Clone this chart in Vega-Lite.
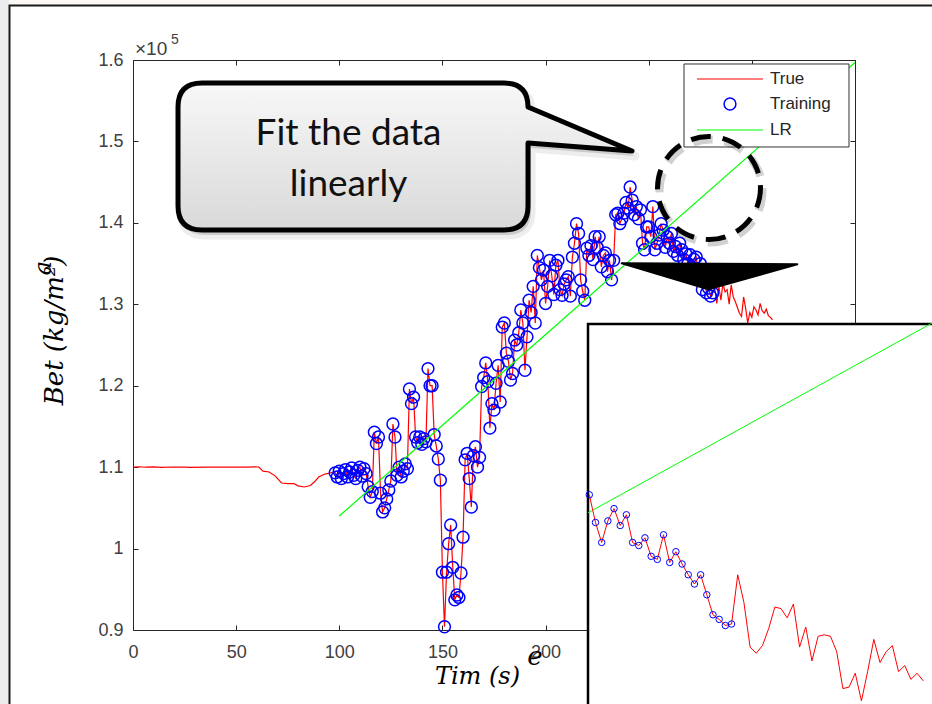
{
 "$schema": "https://vega.github.io/schema/vega-lite/v6.json",
 "width": 722,
 "height": 570,
 "autosize": {"type": "none"},
 "padding": {"left": 133, "top": 60, "right": 77, "bottom": 74},
 "background": "#ffffff",
 "config": {"view": {"stroke": null}, "axis": {"grid": false}},
 "datasets": {
  "main": [
   {"t":0,"beta":1.1,"train":false},{"t":3,"beta":1.1005,"train":false},{"t":6,"beta":1.0999,"train":false},{"t":10,"beta":1.1003,"train":false},{"t":14,"beta":1.0998,"train":false},{"t":19,"beta":1.1002,"train":false},{"t":25,"beta":1.1,"train":false},{"t":28,"beta":1.0996,"train":false},{"t":35,"beta":1.0999,"train":false},{"t":45,"beta":1.1,"train":false},{"t":55,"beta":1.1,"train":false},{"t":59,"beta":1.1004,"train":false},{"t":61,"beta":1.1002,"train":false},{"t":63,"beta":1.095,"train":false},{"t":66,"beta":1.094,"train":false},{"t":69,"beta":1.089,"train":false},{"t":72,"beta":1.0805,"train":false},{"t":75,"beta":1.0797,"train":false},{"t":78,"beta":1.0798,"train":false},{"t":80,"beta":1.077,"train":false},{"t":83,"beta":1.0756,"train":false},{"t":86,"beta":1.0775,"train":false},{"t":88,"beta":1.082,"train":false},{"t":90,"beta":1.0879,"train":false},{"t":93,"beta":1.0915,"train":false},{"t":95,"beta":1.0925,"train":false},{"t":97,"beta":1.094,"train":false},
   {"t":98,"beta":1.093,"train":true},{"t":99,"beta":1.088,"train":true},{"t":100,"beta":1.095,"train":true},{"t":101,"beta":1.086,"train":true},{"t":102,"beta":1.092,"train":true},{"t":103,"beta":1.097,"train":true},{"t":104,"beta":1.088,"train":true},{"t":105,"beta":1.094,"train":true},{"t":106,"beta":1.099,"train":true},{"t":107,"beta":1.09,"train":true},{"t":108,"beta":1.086,"train":true},{"t":109,"beta":1.096,"train":true},{"t":110,"beta":1.1,"train":true},{"t":111,"beta":1.089,"train":true},{"t":112,"beta":1.098,"train":true},{"t":113,"beta":1.092,"train":true},{"t":114,"beta":1.076,"train":true},{"t":115,"beta":1.063,"train":true},{"t":116,"beta":1.07,"train":true},{"t":117,"beta":1.143,"train":true},{"t":118,"beta":1.129,"train":true},{"t":119,"beta":1.137,"train":true},{"t":120,"beta":1.068,"train":true},{"t":121,"beta":1.045,"train":true},{"t":122,"beta":1.05,"train":true},{"t":123,"beta":1.061,"train":true},{"t":124,"beta":1.072,"train":true},{"t":125,"beta":1.083,"train":true},{"t":126,"beta":1.153,"train":true},{"t":127,"beta":1.137,"train":true},{"t":128,"beta":1.09,"train":true},{"t":129,"beta":1.1,"train":true},{"t":130,"beta":1.088,"train":true},{"t":131,"beta":1.095,"train":true},{"t":132,"beta":1.104,"train":true},{"t":133,"beta":1.098,"train":true},{"t":134,"beta":1.196,"train":true},{"t":135,"beta":1.178,"train":true},{"t":136,"beta":1.186,"train":true},{"t":137,"beta":1.137,"train":true},{"t":138,"beta":1.13,"train":true},{"t":139,"beta":1.137,"train":true},{"t":140,"beta":1.128,"train":true},{"t":141,"beta":1.135,"train":true},{"t":142,"beta":1.131,"train":true},{"t":143,"beta":1.221,"train":true},{"t":144,"beta":1.2,"train":true},{"t":145,"beta":1.2,"train":true},{"t":146,"beta":1.14,"train":true},{"t":147,"beta":1.126,"train":true},{"t":148,"beta":1.11,"train":true},{"t":149,"beta":1.084,"train":true},{"t":150,"beta":0.971,"train":true},{"t":151,"beta":0.904,"train":true},{"t":152,"beta":0.971,"train":true},{"t":153,"beta":1.006,"train":true},{"t":154,"beta":1.029,"train":true},{"t":155,"beta":0.977,"train":true},{"t":156,"beta":0.937,"train":true},{"t":157,"beta":0.943,"train":true},{"t":158,"beta":0.94,"train":true},{"t":159,"beta":0.97,"train":true},{"t":160,"beta":1.014,"train":true},{"t":161,"beta":1.109,"train":true},{"t":162,"beta":1.117,"train":true},{"t":163,"beta":1.086,"train":true},{"t":164,"beta":1.051,"train":true},{"t":165,"beta":1.114,"train":true},{"t":166,"beta":1.125,"train":true},{"t":167,"beta":1.1,"train":true},{"t":168,"beta":1.112,"train":true},{"t":169,"beta":1.199,"train":true},{"t":170,"beta":1.21,"train":true},{"t":171,"beta":1.228,"train":true},{"t":172,"beta":1.205,"train":true},{"t":173,"beta":1.148,"train":true},{"t":174,"beta":1.178,"train":true},{"t":175,"beta":1.17,"train":true},{"t":176,"beta":1.203,"train":true},{"t":177,"beta":1.225,"train":true},{"t":178,"beta":1.18,"train":true},{"t":179,"beta":1.272,"train":true},{"t":180,"beta":1.277,"train":true},{"t":181,"beta":1.24,"train":true},{"t":182,"beta":1.23,"train":true},{"t":183,"beta":1.207,"train":true},{"t":184,"beta":1.215,"train":true},{"t":185,"beta":1.256,"train":true},{"t":186,"beta":1.25,"train":true},{"t":187,"beta":1.265,"train":true},{"t":188,"beta":1.293,"train":true},{"t":189,"beta":1.277,"train":true},{"t":190,"beta":1.219,"train":true},{"t":191,"beta":1.26,"train":true},{"t":192,"beta":1.305,"train":true},{"t":193,"beta":1.29,"train":true},{"t":194,"beta":1.322,"train":true},{"t":195,"beta":1.277,"train":true},{"t":196,"beta":1.36,"train":true},{"t":197,"beta":1.345,"train":true},{"t":198,"beta":1.33,"train":true},{"t":199,"beta":1.342,"train":true},{"t":200,"beta":1.301,"train":true},{"t":201,"beta":1.322,"train":true},{"t":202,"beta":1.354,"train":true},{"t":203,"beta":1.335,"train":true},{"t":204,"beta":1.312,"train":true},{"t":205,"beta":1.348,"train":true},{"t":206,"beta":1.354,"train":true},{"t":207,"beta":1.318,"train":true},{"t":208,"beta":1.311,"train":true},{"t":209,"beta":1.325,"train":true},{"t":210,"beta":1.33,"train":true},{"t":211,"beta":1.334,"train":true},{"t":212,"beta":1.31,"train":true},{"t":213,"beta":1.358,"train":true},{"t":214,"beta":1.375,"train":true},{"t":215,"beta":1.399,"train":true},{"t":216,"beta":1.387,"train":true},{"t":217,"beta":1.33,"train":true},{"t":218,"beta":1.316,"train":true},{"t":219,"beta":1.305,"train":true},{"t":220,"beta":1.369,"train":true},{"t":221,"beta":1.36,"train":true},{"t":222,"beta":1.372,"train":true},{"t":223,"beta":1.355,"train":true},{"t":224,"beta":1.383,"train":true},{"t":225,"beta":1.37,"train":true},{"t":226,"beta":1.383,"train":true},{"t":227,"beta":1.346,"train":true},{"t":228,"beta":1.36,"train":true},{"t":229,"beta":1.363,"train":true},{"t":230,"beta":1.34,"train":true},{"t":231,"beta":1.354,"train":true},{"t":232,"beta":1.33,"train":true},{"t":233,"beta":1.354,"train":true},{"t":234,"beta":1.41,"train":true},{"t":235,"beta":1.412,"train":true},{"t":236,"beta":1.399,"train":true},{"t":237,"beta":1.405,"train":true},{"t":238,"beta":1.412,"train":true},{"t":239,"beta":1.425,"train":true},{"t":240,"beta":1.418,"train":true},{"t":241,"beta":1.444,"train":true},{"t":242,"beta":1.428,"train":true},{"t":243,"beta":1.41,"train":true},{"t":244,"beta":1.42,"train":true},{"t":245,"beta":1.405,"train":true},{"t":246,"beta":1.416,"train":true},{"t":247,"beta":1.375,"train":true},{"t":248,"beta":1.367,"train":true},{"t":249,"beta":1.395,"train":true},{"t":250,"beta":1.395,"train":true},{"t":251,"beta":1.383,"train":true},{"t":252,"beta":1.42,"train":true},{"t":253,"beta":1.367,"train":true},{"t":254,"beta":1.375,"train":true},{"t":255,"beta":1.385,"train":true},{"t":256,"beta":1.399,"train":true},{"t":257,"beta":1.391,"train":true},{"t":258,"beta":1.37,"train":true},{"t":259,"beta":1.383,"train":true},{"t":260,"beta":1.375,"train":true},{"t":261,"beta":1.387,"train":true},{"t":262,"beta":1.365,"train":true},{"t":263,"beta":1.371,"train":true},{"t":264,"beta":1.36,"train":true},{"t":265,"beta":1.375,"train":true},{"t":266,"beta":1.367,"train":true},{"t":267,"beta":1.355,"train":true},{"t":268,"beta":1.362,"train":true},{"t":269,"beta":1.35,"train":true},{"t":270,"beta":1.361,"train":true},{"t":271,"beta":1.345,"train":true},{"t":272,"beta":1.355,"train":true},{"t":273,"beta":1.358,"train":true},{"t":274,"beta":1.34,"train":true},{"t":275,"beta":1.35,"train":true},{"t":276,"beta":1.318,"train":true},{"t":277,"beta":1.33,"train":true},{"t":278,"beta":1.314,"train":true},{"t":279,"beta":1.32,"train":true},{"t":280,"beta":1.31,"train":true},{"t":281,"beta":1.314,"train":true},
   {"t":282,"beta":1.32,"train":false},{"t":283,"beta":1.301,"train":false},{"t":284,"beta":1.322,"train":false},{"t":285,"beta":1.305,"train":false},{"t":286,"beta":1.326,"train":false},{"t":287,"beta":1.315,"train":false},{"t":288,"beta":1.318,"train":false},{"t":289,"beta":1.3,"train":false},{"t":290,"beta":1.324,"train":false},{"t":291,"beta":1.309,"train":false},{"t":292,"beta":1.303,"train":false},{"t":293,"beta":1.296,"train":false},{"t":294,"beta":1.289,"train":false},{"t":295,"beta":1.285,"train":false},{"t":296,"beta":1.309,"train":false},{"t":297,"beta":1.295,"train":false},{"t":298,"beta":1.277,"train":false},{"t":299,"beta":1.29,"train":false},{"t":300,"beta":1.284,"train":false},{"t":301,"beta":1.297,"train":false},{"t":302,"beta":1.293,"train":false},{"t":303,"beta":1.287,"train":false},{"t":304,"beta":1.301,"train":false},{"t":305,"beta":1.292,"train":false},{"t":306,"beta":1.289,"train":false},{"t":307,"beta":1.294,"train":false},{"t":308,"beta":1.286,"train":false},{"t":309,"beta":1.284,"train":false},{"t":310,"beta":1.281,"train":false}
  ],
  "lr": [{"t":100,"beta":1.04},{"t":350,"beta":1.597}],
  "inset": [
   {"t":256,"beta":1.399,"train":true},{"t":257,"beta":1.381,"train":true},{"t":258,"beta":1.368,"train":true},{"t":259,"beta":1.382,"train":true},{"t":260,"beta":1.39,"train":true},{"t":261,"beta":1.379,"train":true},{"t":262,"beta":1.386,"train":true},{"t":263,"beta":1.368,"train":true},{"t":264,"beta":1.366,"train":true},{"t":265,"beta":1.371,"train":true},{"t":266,"beta":1.359,"train":true},{"t":267,"beta":1.357,"train":true},{"t":268,"beta":1.373,"train":true},{"t":269,"beta":1.355,"train":true},{"t":270,"beta":1.362,"train":true},{"t":271,"beta":1.354,"train":true},{"t":272,"beta":1.347,"train":true},{"t":273,"beta":1.341,"train":true},{"t":274,"beta":1.347,"train":true},{"t":275,"beta":1.334,"train":true},{"t":276,"beta":1.321,"train":true},{"t":277,"beta":1.318,"train":true},{"t":278,"beta":1.314,"train":true},{"t":279,"beta":1.315,"train":true},
   {"t":280,"beta":1.347,"train":false},{"t":281,"beta":1.329,"train":false},{"t":282,"beta":1.3,"train":false},{"t":283,"beta":1.296,"train":false},{"t":284,"beta":1.301,"train":false},{"t":285,"beta":1.312,"train":false},{"t":286,"beta":1.326,"train":false},{"t":287,"beta":1.325,"train":false},{"t":288,"beta":1.319,"train":false},{"t":289,"beta":1.328,"train":false},{"t":290,"beta":1.3,"train":false},{"t":291,"beta":1.313,"train":false},{"t":292,"beta":1.291,"train":false},{"t":293,"beta":1.307,"train":false},{"t":294,"beta":1.308,"train":false},{"t":295,"beta":1.307,"train":false},{"t":296,"beta":1.297,"train":false},{"t":297,"beta":1.273,"train":false},{"t":298,"beta":1.274,"train":false},{"t":299,"beta":1.283,"train":false},{"t":300,"beta":1.265,"train":false},{"t":301,"beta":1.284,"train":false},{"t":302,"beta":1.305,"train":false},{"t":303,"beta":1.29,"train":false},{"t":304,"beta":1.297,"train":false},{"t":305,"beta":1.301,"train":false},{"t":306,"beta":1.284,"train":false},{"t":307,"beta":1.288,"train":false},{"t":308,"beta":1.279,"train":false},{"t":309,"beta":1.283,"train":false},{"t":310,"beta":1.278,"train":false}
  ],
  "insetLR": [{"t":255.79,"beta":1.3873},{"t":311.41,"beta":1.5106}],
  "one": [{}]
 },
 "layer": [
  {
   "layer": [
    {"data":{"name":"one"},"mark":{"type":"rect","fill":"#ececec"},
     "encoding":{"x":{"datum":-70,"type":"quantitative","scale":{"domain":[0,350],"nice":false,"zero":false},"axis":null},"x2":{"datum":-59.87},
      "y":{"datum":1.7,"type":"quantitative","scale":{"domain":[0.9,1.6],"nice":false,"zero":false},"axis":null},"y2":{"datum":0.8}}},
    {"data":{"name":"one"},"mark":{"type":"rect","fill":"#fcf8f4"},
     "encoding":{"x":{"datum":-59.87,"type":"quantitative","scale":{"domain":[0,350],"nice":false,"zero":false},"axis":null},"x2":{"datum":400},
      "y":{"datum":1.7,"type":"quantitative","scale":{"domain":[0.9,1.6],"nice":false,"zero":false},"axis":null},"y2":{"datum":1.66693}}},
    {"data":{"name":"one"},"mark":{"type":"rect","fillOpacity":0,"stroke":"#1a1a1a","strokeWidth":2},
     "encoding":{"x":{"datum":-59.87,"type":"quantitative","scale":{"domain":[0,350],"nice":false,"zero":false},"axis":null},"x2":{"datum":400},
      "y":{"datum":1.66693,"type":"quantitative","scale":{"domain":[0.9,1.6],"nice":false,"zero":false},"axis":null},"y2":{"datum":0.8}}},
    {"data":{"name":"main"},"mark":{"type":"line","color":"#ff0000","strokeWidth":1.2},
     "encoding":{
      "x":{"field":"t","type":"quantitative","scale":{"domain":[0,350],"nice":false,"zero":false},
       "axis":{"orient":"bottom","values":[0,50,100,150,200,250,300,350],"tickSize":-5,"tickColor":"#262626","domainColor":"#262626","labelFont":"Liberation Sans","labelFontSize":18,"labelColor":"#404040","labelPadding":18,"labelFlush":false,"labelOverlap":false,"title":"Tim  (s)","titleFont":"DejaVu Serif","titleFontStyle":"italic","titleFontWeight":"normal","titleFontSize":24,"titleColor":"#000000","titlePadding":3,"titleX":344}},
      "y":{"field":"beta","type":"quantitative","scale":{"domain":[0.9,1.6],"nice":false,"zero":false},
       "axis":{"orient":"left","values":[0.9,1,1.1,1.2,1.3,1.4,1.5,1.6],"labelExpr":"datum.value == 1 ? '1' : format(datum.value, '.1f')","tickSize":-5,"tickColor":"#262626","domainColor":"#262626","labelFont":"Liberation Sans","labelFontSize":18,"labelColor":"#404040","labelPadding":15,"labelOverlap":false,"labelFlush":false,"title":"Bet  (kg/m²)","titleFont":"DejaVu Serif","titleFontStyle":"italic","titleFontWeight":"normal","titleFontSize":26,"titleColor":"#000000","titlePadding":30,"titleY":270}}}},
    {"data":{"name":"main"},"transform":[{"filter":"datum.train"}],"mark":{"type":"point","shape":"circle","filled":false,"stroke":"#0000ff","strokeWidth":1.5,"size":140,"opacity":1},
     "encoding":{"x":{"field":"t","type":"quantitative","scale":{"domain":[0,350],"nice":false,"zero":false},"axis":null},
      "y":{"field":"beta","type":"quantitative","scale":{"domain":[0.9,1.6],"nice":false,"zero":false},"axis":null}}},
    {"data":{"name":"lr"},"mark":{"type":"line","color":"#00ff00","strokeWidth":1.2},
     "encoding":{
      "x":{"field":"t","type":"quantitative","scale":{"domain":[0,350],"nice":false,"zero":false},
       "axis":{"orient":"top","values":[0,50,100,150,200,250,300,350],"tickSize":-5,"tickColor":"#262626","domainColor":"#262626","labels":false,"title":null}},
      "y":{"field":"beta","type":"quantitative","scale":{"domain":[0.9,1.6],"nice":false,"zero":false},
       "axis":{"orient":"right","values":[0.9,1,1.1,1.2,1.3,1.4,1.5,1.6],"tickSize":-5,"tickColor":"#262626","domainColor":"#262626","labels":false,"title":null}}}},
    {"data":{"name":"one"},"mark":{"type":"rect","fill":"#ffffff","stroke":"#333333","strokeWidth":1},
     "encoding":{"x":{"datum":267.11,"type":"quantitative","scale":{"domain":[0,350],"nice":false,"zero":false},"axis":null},"x2":{"datum":347.09},
      "y":{"datum":1.59509,"type":"quantitative","scale":{"domain":[0.9,1.6],"nice":false,"zero":false},"axis":null},"y2":{"datum":1.49316}}},
    {"data":{"name":"one"},"mark":{"type":"rule","color":"#ff0000","strokeWidth":1.2},
     "encoding":{"x":{"datum":273.41,"type":"quantitative","scale":{"domain":[0,350],"nice":false,"zero":false},"axis":null},"x2":{"datum":305.4},
      "y":{"datum":1.57667,"type":"quantitative","scale":{"domain":[0.9,1.6],"nice":false,"zero":false},"axis":null}}},
    {"data":{"name":"one"},"mark":{"type":"point","shape":"circle","filled":false,"stroke":"#0000ff","strokeWidth":1.5,"size":140,"opacity":1},
     "encoding":{"x":{"datum":289.4,"type":"quantitative","scale":{"domain":[0,350],"nice":false,"zero":false},"axis":null},
      "y":{"datum":1.54597,"type":"quantitative","scale":{"domain":[0.9,1.6],"nice":false,"zero":false},"axis":null}}},
    {"data":{"name":"one"},"mark":{"type":"rule","color":"#00ff00","strokeWidth":1.2},
     "encoding":{"x":{"datum":273.41,"type":"quantitative","scale":{"domain":[0,350],"nice":false,"zero":false},"axis":null},"x2":{"datum":305.4},
      "y":{"datum":1.51404,"type":"quantitative","scale":{"domain":[0.9,1.6],"nice":false,"zero":false},"axis":null}}},
    {"data":{"name":"one"},"mark":{"type":"text","text":"True","font":"Liberation Sans","fontSize":17,"color":"#262626","align":"left","baseline":"middle"},
     "encoding":{"x":{"datum":308.79,"type":"quantitative","scale":{"domain":[0,350],"nice":false,"zero":false},"axis":null},
      "y":{"datum":1.57667,"type":"quantitative","scale":{"domain":[0.9,1.6],"nice":false,"zero":false},"axis":null}}},
    {"data":{"name":"one"},"mark":{"type":"text","text":"Training","font":"Liberation Sans","fontSize":17,"color":"#262626","align":"left","baseline":"middle"},
     "encoding":{"x":{"datum":308.79,"type":"quantitative","scale":{"domain":[0,350],"nice":false,"zero":false},"axis":null},
      "y":{"datum":1.54597,"type":"quantitative","scale":{"domain":[0.9,1.6],"nice":false,"zero":false},"axis":null}}},
    {"data":{"name":"one"},"mark":{"type":"text","text":"LR","font":"Liberation Sans","fontSize":17,"color":"#262626","align":"left","baseline":"middle"},
     "encoding":{"x":{"datum":308.79,"type":"quantitative","scale":{"domain":[0,350],"nice":false,"zero":false},"axis":null},
      "y":{"datum":1.51404,"type":"quantitative","scale":{"domain":[0.9,1.6],"nice":false,"zero":false},"axis":null}}},
    {"data":{"name":"one"},"mark":{"type":"text","text":"×10","font":"Liberation Sans","fontSize":19,"color":"#404040","align":"left","baseline":"alphabetic"},
     "encoding":{"x":{"datum":0.97,"type":"quantitative","scale":{"domain":[0,350],"nice":false,"zero":false},"axis":null},
      "y":{"datum":1.60614,"type":"quantitative","scale":{"domain":[0.9,1.6],"nice":false,"zero":false},"axis":null}}},
    {"data":{"name":"one"},"mark":{"type":"text","text":"5","font":"Liberation Sans","fontSize":14,"color":"#404040","align":"left","baseline":"alphabetic"},
     "encoding":{"x":{"datum":18.42,"type":"quantitative","scale":{"domain":[0,350],"nice":false,"zero":false},"axis":null},
      "y":{"datum":1.61965,"type":"quantitative","scale":{"domain":[0.9,1.6],"nice":false,"zero":false},"axis":null}}},
    {"data":{"name":"one"},"mark":{"type":"text","text":"a","font":"DejaVu Serif","fontStyle":"italic","fontSize":24,"color":"#000000","align":"center","baseline":"middle","angle":270},
     "encoding":{"x":{"datum":-43.14,"type":"quantitative","scale":{"domain":[0,350],"nice":false,"zero":false},"axis":null},
      "y":{"datum":1.34456,"type":"quantitative","scale":{"domain":[0.9,1.6],"nice":false,"zero":false},"axis":null}}},
    {"data":{"name":"one"},"mark":{"type":"text","text":"e","font":"DejaVu Serif","fontStyle":"italic","fontSize":26,"color":"#000000","align":"center","baseline":"middle"},
     "encoding":{"x":{"datum":194.87,"type":"quantitative","scale":{"domain":[0,350],"nice":false,"zero":false},"axis":null},
      "y":{"datum":0.86684,"type":"quantitative","scale":{"domain":[0.9,1.6],"nice":false,"zero":false},"axis":null}}},
    {"data":{"name":"one"},"mark":{"type":"point","shape":"M -0.8943 -0.3238 L 0.4361 -0.3238 Q 0.5419 -0.3238 0.5419 -0.2181 L 1 -0.0242 L 0.5419 -0.0595 L 0.5419 0.2181 Q 0.5419 0.3238 0.4361 0.3238 L -0.8943 0.3238 Q -1 0.3238 -1 0.2181 L -1 -0.2181 Q -1 -0.3238 -0.8943 -0.3238 Z","size":206116,"filled":true,"fill":"#000000","fillOpacity":0.14,"stroke":"#000000","strokeOpacity":0.07,"strokeWidth":9,"strokeJoin":"round","opacity":1,"xOffset":3,"yOffset":5},
     "encoding":{"x":{"datum":131.86,"type":"quantitative","scale":{"domain":[0,350],"nice":false,"zero":false},"axis":null},
      "y":{"datum":1.48149,"type":"quantitative","scale":{"domain":[0.9,1.6],"nice":false,"zero":false},"axis":null}}},
    {"data":{"name":"one"},"mark":{"type":"point","shape":"M -0.8943 -0.3238 L 0.4361 -0.3238 Q 0.5419 -0.3238 0.5419 -0.2181 L 1 -0.0242 L 0.5419 -0.0595 L 0.5419 0.2181 Q 0.5419 0.3238 0.4361 0.3238 L -0.8943 0.3238 Q -1 0.3238 -1 0.2181 L -1 -0.2181 Q -1 -0.3238 -0.8943 -0.3238 Z","size":206116,"filled":true,"fill":{"gradient":"linear","x1":0,"y1":0,"x2":0,"y2":1,"stops":[{"offset":0,"color":"#f8f8f8"},{"offset":1,"color":"#d9d9d9"}]},"stroke":"#000000","strokeWidth":5,"strokeJoin":"round","opacity":1},
     "encoding":{"x":{"datum":131.86,"type":"quantitative","scale":{"domain":[0,350],"nice":false,"zero":false},"axis":null},
      "y":{"datum":1.48149,"type":"quantitative","scale":{"domain":[0.9,1.6],"nice":false,"zero":false},"axis":null}}},
    {"data":{"name":"one"},"mark":{"type":"text","text":["Fit the data","linearly"],"font":"Lato","fontSize":37,"lineHeight":51,"color":"#111111","align":"center","baseline":"alphabetic"},
     "encoding":{"x":{"datum":104.47,"type":"quantitative","scale":{"domain":[0,350],"nice":false,"zero":false},"axis":null},
      "y":{"datum":1.49561,"type":"quantitative","scale":{"domain":[0.9,1.6],"nice":false,"zero":false},"axis":null}}},
    {"data":{"name":"one"},"mark":{"type":"point","shape":"circle","size":10600,"filled":false,"stroke":"#000000","strokeOpacity":0.18,"strokeWidth":8,"strokeDash":[20,12],"opacity":1,"xOffset":2,"yOffset":3},
     "encoding":{"x":{"datum":279.22,"type":"quantitative","scale":{"domain":[0,350],"nice":false,"zero":false},"axis":null},
      "y":{"datum":1.44281,"type":"quantitative","scale":{"domain":[0.9,1.6],"nice":false,"zero":false},"axis":null}}},
    {"data":{"name":"one"},"mark":{"type":"point","shape":"circle","size":10600,"filled":false,"stroke":"#000000","strokeWidth":5,"strokeDash":[20,12],"opacity":1},
     "encoding":{"x":{"datum":279.22,"type":"quantitative","scale":{"domain":[0,350],"nice":false,"zero":false},"axis":null},
      "y":{"datum":1.44281,"type":"quantitative","scale":{"domain":[0.9,1.6],"nice":false,"zero":false},"axis":null}}},
    {"data":{"name":"one"},"mark":{"type":"point","shape":"M -1 -0.148 L 1 -0.137 L -0.0137 0.148 Z","size":30835,"filled":true,"fill":"#000000","stroke":"#000000","strokeWidth":2,"strokeJoin":"round","opacity":1},
     "encoding":{"x":{"datum":279.47,"type":"quantitative","scale":{"domain":[0,350],"nice":false,"zero":false},"axis":null},
      "y":{"datum":1.33437,"type":"quantitative","scale":{"domain":[0.9,1.6],"nice":false,"zero":false},"axis":null}}}
   ],
   "resolve": {"axis": {"x": "independent", "y": "independent"}}
  },
  {
   "layer": [
    {"data":{"name":"one"},"mark":{"type":"rect","fill":"#ffffff","stroke":"#000000","strokeWidth":2.5},
     "encoding":{"x":{"datum":255.79,"type":"quantitative","scale":{"domain":[255.79,311.41],"range":[455,799],"nice":false,"zero":false},"axis":null},"x2":{"datum":320},
      "y":{"datum":1.51,"type":"quantitative","scale":{"domain":[1.263,1.51],"range":[644,264],"nice":false,"zero":false},"axis":null},"y2":{"datum":1.2}}},
    {"data":{"name":"insetLR"},"mark":{"type":"line","color":"#00ff00","strokeWidth":1},
     "encoding":{"x":{"field":"t","type":"quantitative","scale":{"domain":[255.79,311.41],"range":[455,799],"nice":false,"zero":false},"axis":null},
      "y":{"field":"beta","type":"quantitative","scale":{"domain":[1.263,1.51],"range":[644,264],"nice":false,"zero":false},"axis":null}}},
    {"data":{"name":"inset"},"mark":{"type":"line","color":"#ff0000","strokeWidth":1},
     "encoding":{"x":{"field":"t","type":"quantitative","scale":{"domain":[255.79,311.41],"range":[455,799],"nice":false,"zero":false},"axis":null},
      "y":{"field":"beta","type":"quantitative","scale":{"domain":[1.263,1.51],"range":[644,264],"nice":false,"zero":false},"axis":null}}},
    {"data":{"name":"inset"},"transform":[{"filter":"datum.train"}],"mark":{"type":"point","shape":"circle","filled":false,"stroke":"#0000ff","strokeWidth":1,"size":42,"opacity":1},
     "encoding":{"x":{"field":"t","type":"quantitative","scale":{"domain":[255.79,311.41],"range":[455,799],"nice":false,"zero":false},"axis":null},
      "y":{"field":"beta","type":"quantitative","scale":{"domain":[1.263,1.51],"range":[644,264],"nice":false,"zero":false},"axis":null}}}
   ]
  }
 ],
 "resolve": {"scale": {"x": "independent", "y": "independent"}}
}
